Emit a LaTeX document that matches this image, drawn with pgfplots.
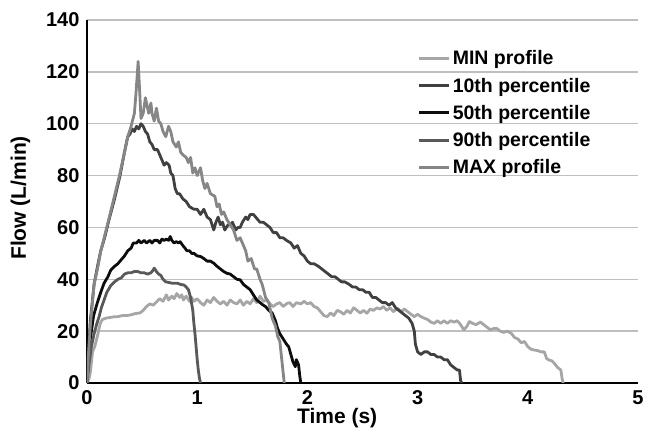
\documentclass[border=0pt]{standalone}
\usepackage{pgfplots}
\pgfplotsset{compat=1.18}
\usepackage{fontspec}
\setmainfont{Liberation Sans}
\definecolor{cmin}{HTML}{A6A6A6}
\definecolor{cten}{HTML}{404040}
\definecolor{cfifty}{HTML}{0D0D0D}
\definecolor{cninety}{HTML}{595959}
\definecolor{cmax}{HTML}{868686}
\begin{document}
\begin{tikzpicture}
\begin{axis}[
  name=main,
  scale only axis,
  width=551pt, height=363pt,
  xmin=0, xmax=5, ymin=0, ymax=140,
  xtick={0,1,2,3,4,5}, ytick={0,20,40,60,80,100,120,140},
  axis x line*=bottom, axis y line*=left,
  axis line style={line width=2.4pt, black, -},
  major tick length=0pt,
  ymajorgrids, grid style={line width=1.3pt, color=black!25},
  /pgf/number format/assume math mode=true,
  tick label style={font=\fontsize{20}{24}\selectfont\bfseries},
  yticklabel style={xshift=-4pt},
  xticklabel style={yshift=-4pt},
  xlabel={Time (s)}, ylabel={Flow (L/min)},
  label style={font=\fontsize{21}{25}\selectfont\bfseries},
  xlabel style={at={(axis description cs:0.454,-0.0964)}, anchor=center},
  ylabel style={at={(axis description cs:-0.121,0.51)}, anchor=center},
  legend style={at={(rel axis cs:0.60,0.921)}, anchor=north west, draw=none, fill=none,
    font=\fontsize{19.5}{22}\selectfont\bfseries, row sep=7.5pt, inner sep=0pt},
  legend cell align=left,
  legend image code/.code={\draw[#1, line width=3pt] (0pt,0pt) -- (30pt,0pt);},
  every axis plot/.append style={line width=2.8pt, line join=round, mark=none},
]
\addplot[cmin] coordinates {
(0,0)(0.02,2)(0.03,4)(0.05,12)(0.07,14)(0.094,18)(0.12,23)(0.14,24.5)(0.17,25)(0.20,25.2)
(0.24,25.5)(0.28,25.6)(0.32,26)(0.36,26)(0.40,26.3)(0.44,26.8)(0.48,27)(0.51,28)(0.54,29.5)
(0.57,30.5)(0.60,30)(0.625,31)(0.66,32.5)(0.69,31.5)(0.72,34)(0.74,32)(0.77,33.5)(0.79,32.5)
(0.815,34.5)(0.84,33)(0.86,34)(0.875,32)(0.90,33.5)(0.93,31.5)(0.95,33)(0.97,31.5)(1.00,32.5)
(1.03,31)(1.06,30)(1.09,32)(1.12,31)(1.15,33)(1.18,31.5)(1.21,30.5)(1.24,31.5)(1.27,30)
(1.30,32)(1.33,31)(1.36,30.5)(1.39,32)(1.42,30)(1.45,31.5)(1.48,30.5)(1.51,32.5)(1.54,31)
(1.57,33.5)(1.60,31.5)(1.63,32)(1.66,30.5)(1.69,29.5)(1.72,30.5)(1.75,31)(1.78,29.5)(1.815,30.7)
(1.84,31)(1.87,29.5)(1.90,31)(1.94,30.5)(1.97,31.5)(2.00,30.5)(2.03,31)(2.06,29.5)(2.09,29)
(2.12,27.5)(2.15,26)(2.18,25.6)(2.21,27)(2.24,26)(2.27,28)(2.30,27.5)(2.33,26.5)(2.36,28)
(2.39,27)(2.42,29)(2.45,28)(2.48,27)(2.51,28)(2.54,26.9)(2.57,28.5)(2.60,28)(2.63,29)
(2.66,28.5)(2.69,29.5)(2.72,28)(2.75,29)(2.78,27.5)(2.82,28.8)(2.85,27.5)(2.88,28.5)(2.91,27.5)
(2.94,26.5)(2.97,25.6)(3.00,26.5)(3.03,25.6)(3.06,25)(3.09,24.5)(3.12,23.5)(3.15,23)(3.18,24)
(3.21,23)(3.24,24)(3.27,23)(3.30,24)(3.33,23.5)(3.36,24)(3.39,22.5)(3.42,20.5)(3.45,22)
(3.47,23.7)(3.50,23)(3.53,22.5)(3.57,23.5)(3.60,22.5)(3.63,21.5)(3.66,20.5)(3.69,21)(3.72,21)
(3.75,20)(3.78,19.5)(3.81,20)(3.85,19.2)(3.88,17.5)(3.91,17)(3.94,15.5)(3.97,16)(4.00,14)
(4.03,13)(4.06,12.7)(4.09,12.5)(4.12,12)(4.15,12)(4.17,9.5)(4.19,8.9)(4.22,8.5)(4.24,7.6)
(4.27,6)(4.30,5)(4.31,2)(4.32,0)};
\addlegendentry{MIN profile}
\addplot[cten] coordinates {
(0,0)(0.01,8)(0.03,24)(0.064,38)(0.10,46)(0.125,51)(0.16,56)(0.20,63)(0.25,71)(0.30,80)
(0.34,89)(0.37,95)(0.39,96)(0.41,98)(0.43,97)(0.45,99)(0.47,98)(0.49,100)(0.51,99)(0.53,97)
(0.55,96)(0.57,93)(0.59,92)(0.61,90)(0.64,90)(0.66,88)(0.68,86)(0.70,84)(0.72,85)(0.745,84)
(0.76,81)(0.78,80)(0.80,75)(0.82,73)(0.84,73)(0.87,71)(0.90,70)(0.93,68)(0.97,67)(1.00,67)
(1.03,65)(1.06,67)(1.09,64)(1.12,63)(1.15,59)(1.17,62)(1.19,64)(1.21,61)(1.23,62)(1.25,59)
(1.28,61)(1.30,61)(1.32,62)(1.35,59)(1.37,60)(1.39,60)(1.41,62)(1.44,64)(1.46,63)(1.48,65)
(1.51,65)(1.53,64)(1.55,63)(1.57,62)(1.60,62)(1.63,61)(1.66,60)(1.69,58)(1.72,58)(1.75,56)
(1.78,56)(1.81,55)(1.85,54)(1.88,52)(1.91,53)(1.94,50)(1.97,49)(2.00,47)(2.03,46)(2.06,46)
(2.10,45)(2.13,44)(2.16,43)(2.19,42)(2.22,41)(2.25,41)(2.28,40)(2.31,39)(2.34,39)(2.38,38)
(2.41,37)(2.44,37)(2.47,36)(2.50,36)(2.53,35)(2.56,35)(2.59,33)(2.62,33)(2.65,32)(2.68,31)
(2.71,31)(2.74,30)(2.77,31)(2.80,29)(2.83,28)(2.86,27)(2.89,26)(2.92,25)(2.95,23)(2.97,20)
(2.98,15)(3.00,12)(3.03,11)(3.06,12)(3.09,12)(3.12,11)(3.15,11)(3.18,10)(3.21,10)(3.24,9)
(3.27,9)(3.30,7)(3.33,6)(3.36,5)(3.38,5)(3.39,1)(3.40,0)};
\addlegendentry{10th percentile}
\addplot[cfifty] coordinates {
(0,0)(0.01,8)(0.03,17)(0.06,26)(0.094,31)(0.125,35)(0.155,38.5)(0.19,41)(0.215,43.5)(0.25,45)
(0.28,46)(0.31,47.5)(0.34,49)(0.37,51)(0.40,52)(0.42,54)(0.45,54)(0.47,55)(0.49,54)(0.52,55)
(0.54,54)(0.57,55)(0.59,54)(0.61,55)(0.64,55)(0.66,54)(0.68,55.5)(0.70,55)(0.72,55.5)(0.74,55)
(0.755,56.5)(0.77,55)(0.79,54)(0.81,54.5)(0.83,54)(0.845,54.5)(0.87,53)(0.89,52)(0.906,51)
(0.93,51)(0.95,50)(0.97,50)(1.00,49)(1.03,48.8)(1.06,48)(1.09,47)(1.12,47)(1.15,46.2)(1.18,45)
(1.21,44)(1.24,43)(1.27,42.3)(1.30,42)(1.33,41)(1.36,40)(1.39,39.8)(1.42,38)(1.45,37)(1.48,36)
(1.51,34)(1.54,32)(1.57,31)(1.60,30)(1.62,29.5)(1.65,28)(1.68,27)(1.71,24)(1.73,21)(1.75,19)
(1.78,17)(1.81,15)(1.83,14)(1.85,11)(1.87,8)(1.89,6.3)(1.90,9)(1.92,7)(1.93,3)(1.94,0)};
\addlegendentry{50th percentile}
\addplot[cninety] coordinates {
(0,0)(0.02,8)(0.04,14)(0.064,19)(0.09,23)(0.11,25.6)(0.13,29)(0.155,32)(0.18,35)(0.215,37.5)
(0.25,39)(0.28,40)(0.31,40.5)(0.34,42)(0.37,42.5)(0.40,42.5)(0.43,43)(0.46,43)(0.49,42.5)
(0.52,42.5)(0.55,42)(0.58,42.5)(0.60,43.5)(0.61,44.3)(0.63,43)(0.65,42)(0.67,41.5)(0.69,40)
(0.715,39)(0.74,38.8)(0.77,38.5)(0.80,38.5)(0.82,38.5)(0.85,38)(0.88,37.8)(0.90,37)(0.92,36)
(0.94,33)(0.96,28)(0.97,23)(0.98,19)(0.99,14)(1.00,9)(1.01,5)(1.02,2)(1.03,0)};
\addlegendentry{90th percentile}
\addplot[cmax] coordinates {
(0,0)(0.01,9)(0.03,22)(0.064,38)(0.10,45)(0.125,51)(0.15,55)(0.185,61)(0.22,67)(0.26,74)
(0.30,81)(0.34,89)(0.37,95)(0.40,99)(0.43,104)(0.445,112)(0.464,124)(0.475,115)(0.49,102)
(0.51,104)(0.53,110)(0.55,106)(0.56,104)(0.58,108)(0.59,104)(0.61,101)(0.63,106)(0.65,101)
(0.67,100)(0.69,97)(0.715,95)(0.74,99)(0.76,97)(0.78,93)(0.81,91)(0.83,93)(0.85,89)(0.87,88)
(0.90,87)(0.92,85)(0.94,87)(0.96,81)(0.98,83)(1.00,80)(1.03,83)(1.05,78)(1.07,75)(1.09,77)
(1.12,73)(1.16,72)(1.18,68)(1.20,69)(1.22,65)(1.24,66)(1.27,63)(1.30,61)(1.33,59)(1.36,55)
(1.39,56)(1.42,53)(1.44,51)(1.46,47)(1.49,48)(1.52,44)(1.54,44)(1.57,40)(1.59,38)(1.62,33)
(1.65,31)(1.68,25)(1.71,22)(1.73,18)(1.75,16)(1.77,8)(1.79,0)};
\addlegendentry{MAX profile}
\end{axis}
\pgfresetboundingbox
\path ([shift={(-87pt,-52pt)}]main.south west) rectangle ([shift={(11pt,20pt)}]main.north east);
\end{tikzpicture}
\end{document}
